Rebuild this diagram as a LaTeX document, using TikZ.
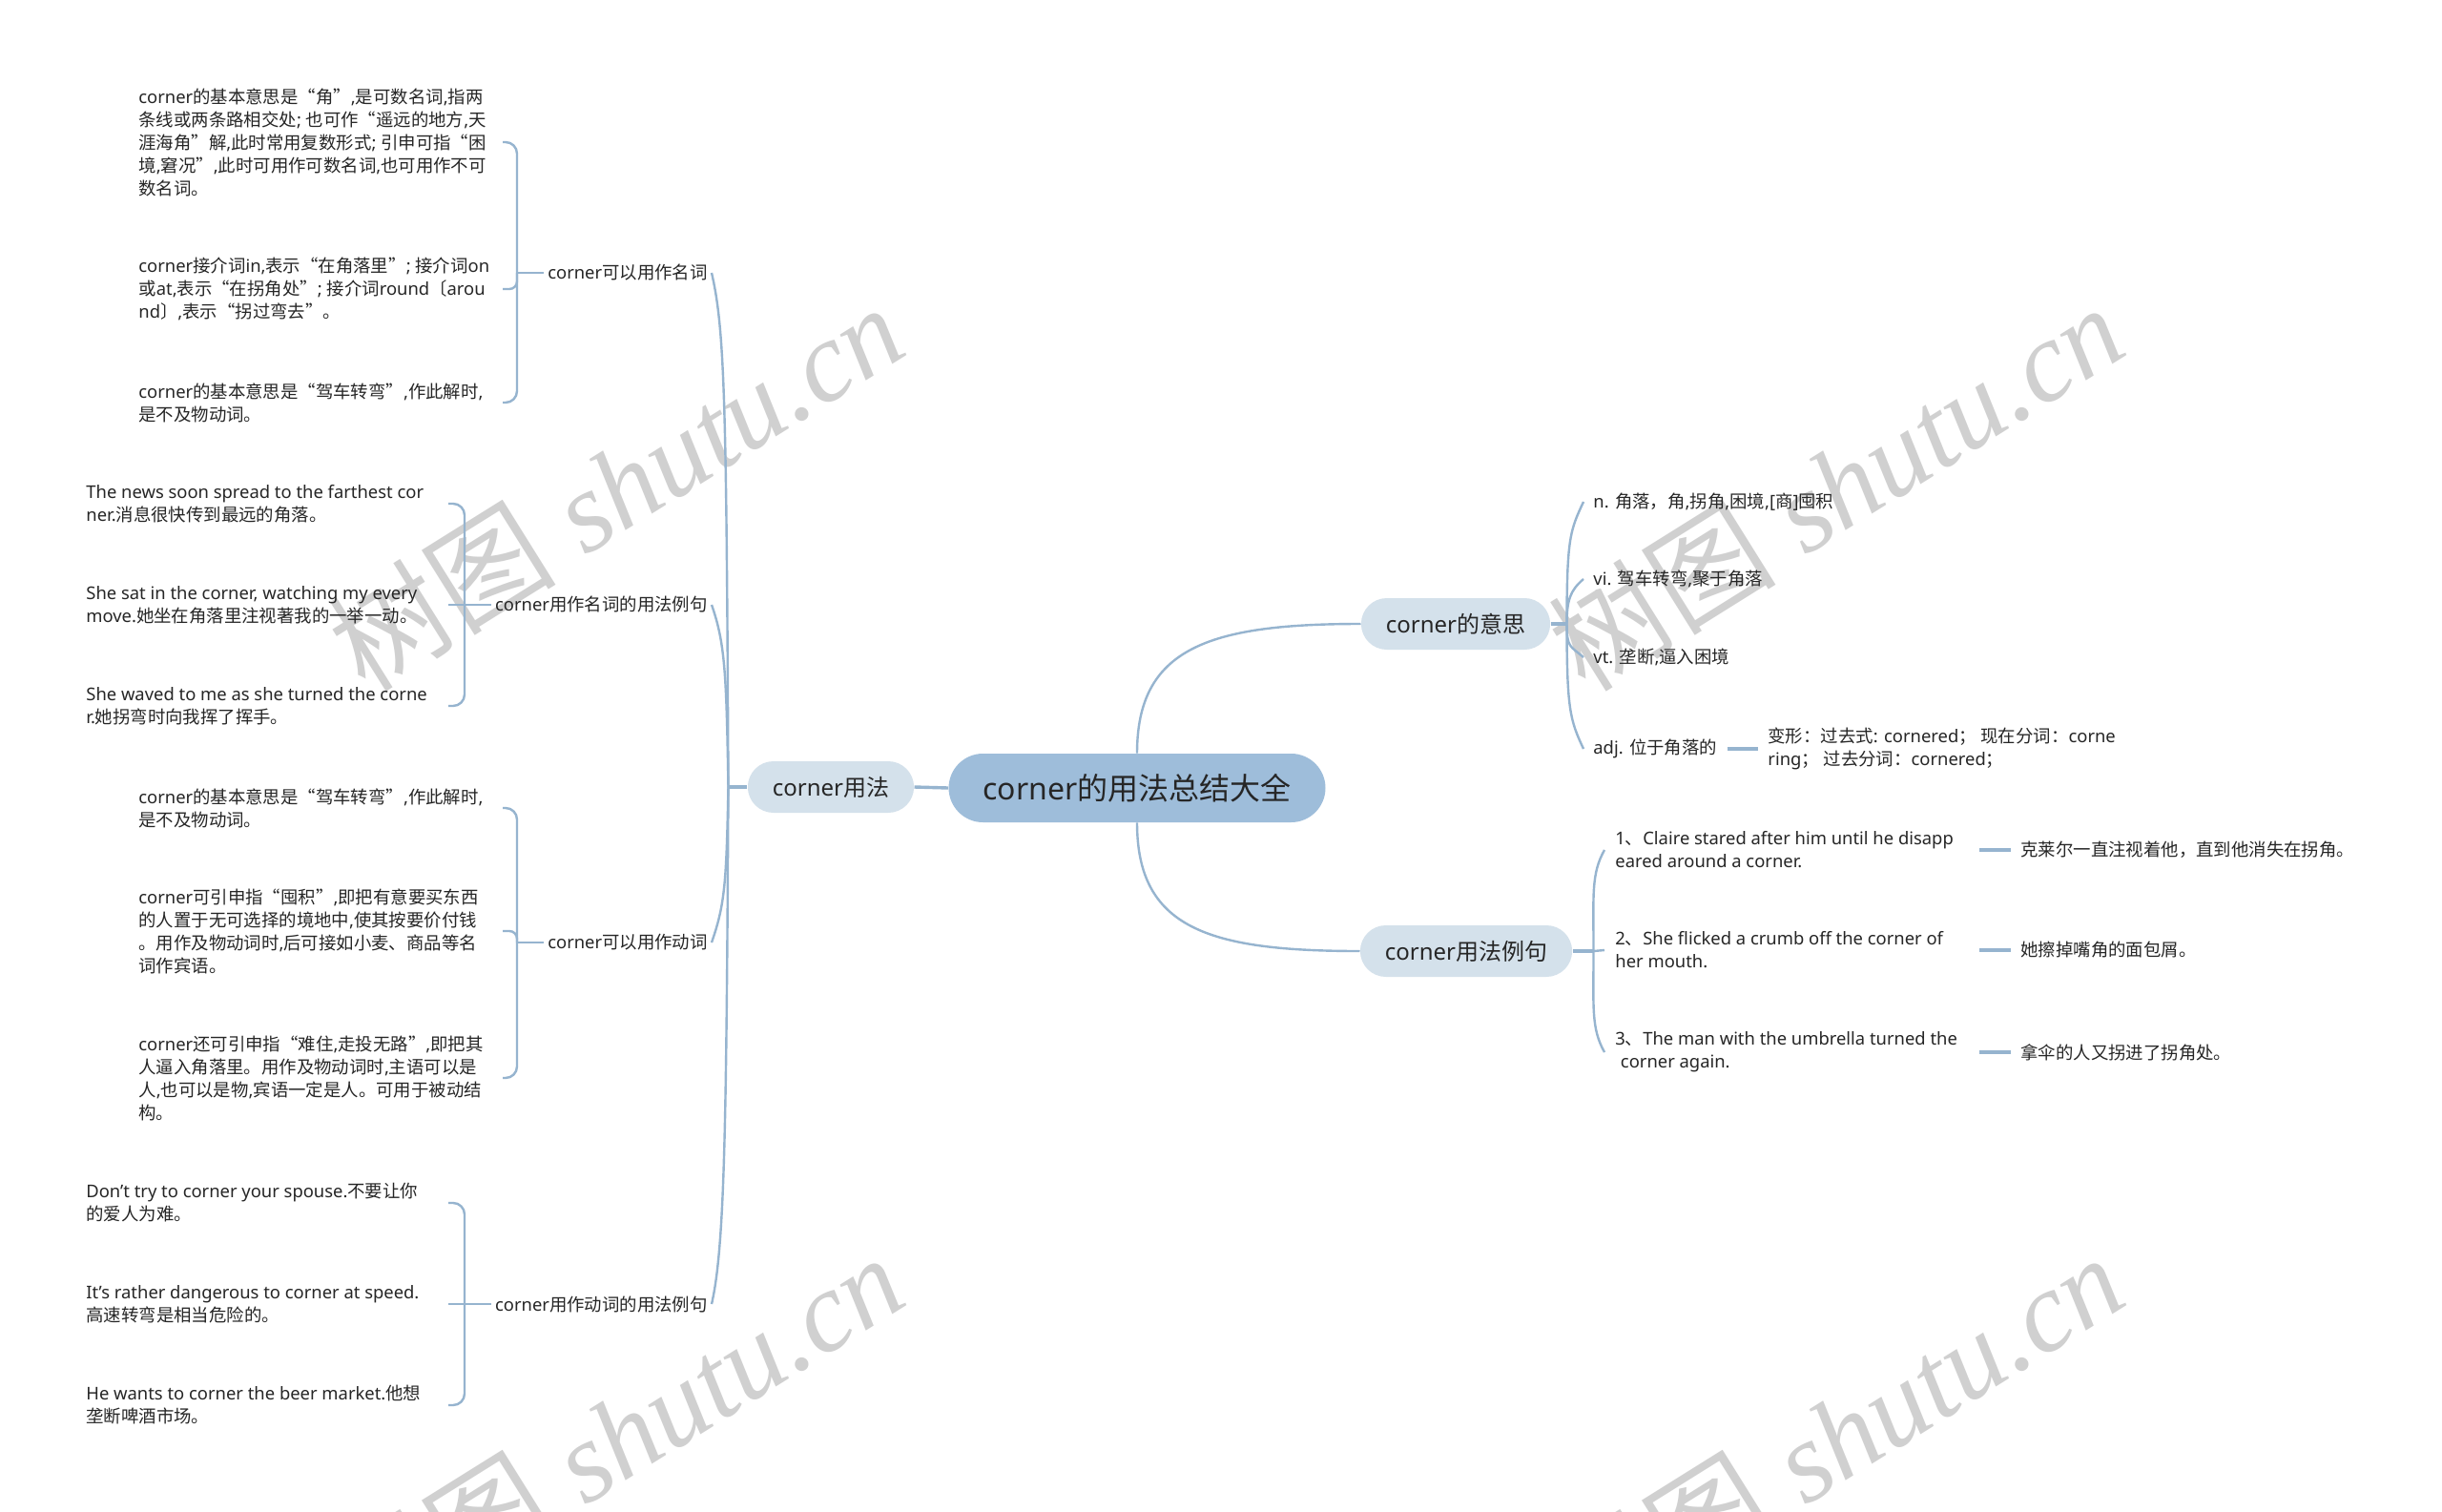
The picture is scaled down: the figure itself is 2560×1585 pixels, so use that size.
\documentclass[tikz,border=0pt]{standalone}
\usepackage{fontspec}
\setmainfont{Noto Sans}
\newfontfamily\zhfont{Noto Sans CJK SC}
\newfontfamily\enfont{Noto Sans}
\newfontfamily\wmfont{Liberation Serif}
\usetikzlibrary{calc}
% automatic switch between Latin and CJK fonts
\newcount\zhc
\def\setcls#1#2#3{\zhc=#1\relax\loop\XeTeXcharclass\zhc=#3\relax\ifnum\zhc<#2\relax\advance\zhc by 1\relax\repeat}
\chardef\zhcls=7
\setcls{"21}{"7E}{0}
\setcls{"3000}{"303F}{\zhcls}
\setcls{"4E00}{"9FFF}{\zhcls}
\setcls{"FF00}{"FFEF}{\zhcls}
\XeTeXcharclass"201C=\zhcls
\XeTeXcharclass"201D=\zhcls
\XeTeXinterchartokenstate=1
\XeTeXinterchartoks 0 \zhcls={\zhfont}
\XeTeXinterchartoks 1 \zhcls={\zhfont}
\XeTeXinterchartoks 2 \zhcls={\zhfont}
\XeTeXinterchartoks 3 \zhcls={\zhfont}
\XeTeXinterchartoks 4095 \zhcls={\zhfont}
\XeTeXinterchartoks \zhcls 0={\enfont}
\XeTeXinterchartoks \zhcls 1={\enfont}
\XeTeXinterchartoks \zhcls 2={\enfont}
\XeTeXinterchartoks \zhcls 3={\enfont}
\XeTeXinterchartoks \zhcls 4095={\enfont}
\definecolor{rootC}{RGB}{158,189,218}
\definecolor{lvC}{RGB}{212,225,235}
\definecolor{lineC}{RGB}{150,180,207}
\definecolor{txtC}{RGB}{38,38,38}
\definecolor{wmC}{RGB}{208,208,208}
\begin{document}
\begin{tikzpicture}[x=0.5pt,y=-0.5pt,
  conn/.style={draw=lineC, line width=1.2pt},
  thick conn/.style={draw=lineC, line width=1.7pt},
  rootbox/.style={fill=rootC, rounded corners=18pt, minimum height=36pt, minimum width=196pt, inner xsep=18pt, font=\fontsize{16}{20}\selectfont, text=txtC},
  lvone/.style={fill=lvC, rounded corners=13.5pt, minimum height=27pt, inner xsep=13pt, font=\fontsize{12}{14}\selectfont, text=txtC},
  plain/.style={font=\fontsize{9.2}{12}\selectfont, text=txtC, align=left, inner sep=0pt},
  grp/.style={plain, anchor=east, inner xsep=2pt},
  leaf/.style={plain, anchor=west},
  sidetext/.style={plain, anchor=west, inner xsep=5pt},
  wmark/.style={rotate=32, text=wmC, font=\fontsize{60}{60}\selectfont, inner sep=0pt}
]
\fill[white] (0,0) rectangle (2560,1585);
\useasboundingbox (0,0) rectangle (2560,1585);

% watermarks
\node[wmark] (wm1) at (645,510) {{\zhfont 树图} {\wmfont\itshape shutu.cn}};
\node[wmark] (wm2) at (1924,510) {{\zhfont 树图} {\wmfont\itshape shutu.cn}};
\node[wmark] (wm3) at (645,1506) {{\zhfont 树图} {\wmfont\itshape shutu.cn}};
\node[wmark] (wm4) at (1924,1506) {{\zhfont 树图} {\wmfont\itshape shutu.cn}};

% main nodes
\node[rootbox] (root) at (1192,826) {corner的用法总结大全};
\node[lvone] (use) at (871,825) {corner用法};
\node[lvone] (mean) at (1526,654) {corner的意思};
\node[lvone] (ex) at (1537,997) {corner用法例句};

\draw[thick conn] (root.west) -- (use.east);
\draw[conn] (root.north) .. controls +(0,-110) and +(-160,0) .. (mean.west);
\draw[conn] (root.south) .. controls +(0,110) and +(-160,0) .. (ex.west);

% ---------- left side ----------
\node[grp] (gA) at (746,286) {corner可以用作名词};
\node[grp] (gB) at (746,634) {corner用作名词的用法例句};
\node[grp] (gC) at (746,988) {corner可以用作动词};
\node[grp] (gD) at (746,1367) {corner用作动词的用法例句};

\coordinate (uJ) at ($(use.west)+(-20,0)$);
\draw[thick conn] (use.west) -- (uJ);
\draw[conn] (uJ) .. controls +(-2,-400) and +(14,60) .. (gA.east);
\draw[conn] (uJ) .. controls +(-2,-120) and +(14,40) .. (gB.east);
\draw[conn] (uJ) .. controls +(-2,100) and +(14,-40) .. (gC.east);
\draw[conn] (uJ) .. controls +(-2,350) and +(14,-60) .. (gD.east);

\coordinate (xA) at (542,0);
\coordinate (eA) at (527,0);
\coordinate (xB) at (487,0);
\coordinate (eB) at (470,0);

\node[leaf] (A1) at (145,149) {corner的基本意思是“角”,是可数名词,指两\\条线或两条路相交处; 也可作“遥远的地方,天\\涯海角”解,此时常用复数形式; 引申可指“困\\境,窘况”,此时可用作可数名词,也可用作不可\\数名词。};
\node[leaf] (A2) at (145,303) {corner接介词in,表示“在角落里”; 接介词on\\或at,表示“在拐角处”; 接介词round〔arou\\nd〕,表示“拐过弯去”。};
\node[leaf] (A3) at (145,422) {corner的基本意思是“驾车转弯”,作此解时,\\是不及物动词。};

\node[leaf] (B1) at (90,528) {The news soon spread to the farthest cor\\ner.消息很快传到最远的角落。};
\node[leaf] (B2) at (90,634) {She sat in the corner, watching my every\\move.她坐在角落里注视著我的一举一动。};
\node[leaf] (B3) at (90,740) {She waved to me as she turned the corne\\r.她拐弯时向我挥了挥手。};

\node[leaf] (C1) at (145,847) {corner的基本意思是“驾车转弯”,作此解时,\\是不及物动词。};
\node[leaf] (C2) at (145,976) {corner可引申指“囤积”,即把有意要买东西\\的人置于无可选择的境地中,使其按要价付钱\\。用作及物动词时,后可接如小麦、商品等名\\词作宾语。};
\node[leaf] (C3) at (145,1130) {corner还可引申指“难住,走投无路”,即把其\\人逼入角落里。用作及物动词时,主语可以是\\人,也可以是物,宾语一定是人。可用于被动结\\构。};

\node[leaf] (D1) at (90,1261) {Don't try to corner your spouse.不要让你\\的爱人为难。};
\node[leaf] (D2) at (90,1367) {It's rather dangerous to corner at speed.\\高速转弯是相当危险的。};
\node[leaf] (D3) at (90,1473) {He wants to corner the beer market.他想\\垄断啤酒市场。};

% brackets A
\draw[conn] (gA.west) -- (gA.west -| xA);
\draw[conn, rounded corners=6pt] (gA.west -| xA) |- (A1.east -| eA);
\draw[conn, rounded corners=4pt] (gA.west -| xA) |- (A2.east -| eA);
\draw[conn, rounded corners=6pt] (gA.west -| xA) |- (A3.east -| eA);
% brackets B
\draw[conn] (gB.west) -- (gB.west -| xB);
\draw[conn, rounded corners=6pt] (gB.west -| xB) |- (B1.east -| eB);
\draw[conn] (gB.west -| xB) -- (B2.east -| eB);
\draw[conn, rounded corners=6pt] (gB.west -| xB) |- (B3.east -| eB);
% brackets C
\draw[conn] (gC.west) -- (gC.west -| xA);
\draw[conn, rounded corners=6pt] (gC.west -| xA) |- (C1.east -| eA);
\draw[conn, rounded corners=4pt] (gC.west -| xA) |- (C2.east -| eA);
\draw[conn, rounded corners=6pt] (gC.west -| xA) |- (C3.east -| eA);
% brackets D
\draw[conn] (gD.west) -- (gD.west -| xB);
\draw[conn, rounded corners=6pt] (gD.west -| xB) |- (D1.east -| eB);
\draw[conn] (gD.west -| xB) -- (D2.east -| eB);
\draw[conn, rounded corners=6pt] (gD.west -| xB) |- (D3.east -| eB);

% ---------- meanings ----------
\coordinate (mJ) at ($(mean.east)+(17,0)$);
\draw[thick conn] (mean.east) -- (mJ);
\node[sidetext] (M1) at (1660,526) {n. 角落，角,拐角,困境,[商]囤积};
\node[sidetext] (M2) at (1660,607) {vi. 驾车转弯,聚于角落};
\node[sidetext] (M3) at (1660,689) {vt. 垄断,逼入困境};
\node[sidetext] (M4) at (1660,785) {adj. 位于角落的};
\node[sidetext] (V1) at (1843,785) {变形：过去式: cornered； 现在分词：corne\\ring； 过去分词：cornered；};
\draw[conn] (mJ) .. controls +(0,-90) and +(-14,30) .. (M1.west);
\draw[conn] (mJ) .. controls +(0,-25) and +(-14,12) .. (M2.west);
\draw[conn] (mJ) .. controls +(0,25) and +(-14,-12) .. (M3.west);
\draw[conn] (mJ) .. controls +(0,90) and +(-14,-30) .. (M4.west);
\draw[thick conn] (M4.east) -- (V1.west);

% ---------- examples ----------
\coordinate (xJ) at ($(ex.east)+(22,0)$);
\draw[thick conn] (ex.east) -- (xJ);
\node[sidetext, inner xsep=5.5pt] (E1) at (1682,891) {1、Claire stared after him until he disapp\\eared around a corner.};
\node[sidetext, inner xsep=5.5pt] (E2) at (1682,996) {2、She flicked a crumb off the corner of\\her mouth.};
\node[sidetext, inner xsep=5.5pt] (E3) at (1682,1103) {3、The man with the umbrella turned the\\\hspace{0.3em}corner again.};
\draw[conn] (xJ) .. controls +(0,-60) and +(-14,25) .. (E1.west);
\draw[conn] (xJ) -- (E2.west);
\draw[conn] (xJ) .. controls +(0,60) and +(-14,-25) .. (E3.west);

\coordinate (tx) at (2075,0);
\node[sidetext] (T1) at (2108,891) {克莱尔一直注视着他，直到他消失在拐角。};
\node[sidetext] (T2) at (2108,996) {她擦掉嘴角的面包屑。};
\node[sidetext] (T3) at (2108,1103) {拿伞的人又拐进了拐角处。};
\draw[thick conn] (E1.west -| tx) -- (T1.west);
\draw[thick conn] (E2.west -| tx) -- (T2.west);
\draw[thick conn] (E3.west -| tx) -- (T3.west);
\end{tikzpicture}
\end{document}
